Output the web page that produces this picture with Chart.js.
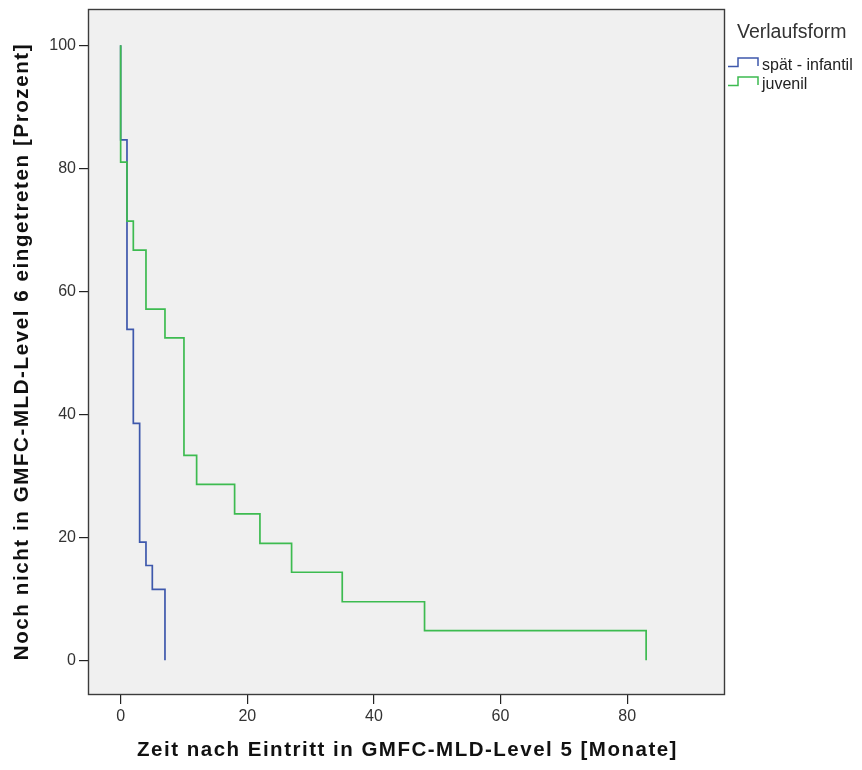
<!DOCTYPE html>
<html>
<head>
<meta charset="utf-8">
<script src="https://cdn.jsdelivr.net/npm/chart.js@4.4.1/dist/chart.umd.min.js"></script>
<style>
  html, body { margin: 0; padding: 0; background: #fff; }
</style>
</head>
<body>
<canvas id="kmChart" width="862" height="770"></canvas>
<script>
// Kaplan-Meier steps
var groupNames = ['spät - infantil', 'juvenil'];
var spaetMonths = [0, 0, 1, 2, 3, 4, 5, 7];
var spaetPercent = [100, 84.6, 53.8, 38.5, 19.2, 15.4, 11.5, 0];
var juvenilMonths = [0, 0, 1, 2, 4, 7, 10, 12, 18, 22, 27, 35, 48, 83];
var juvenilPercent = [100, 81.0, 71.4, 66.7, 57.1, 52.4, 33.3, 28.6, 23.8, 19.0, 14.3, 9.5, 4.8, 0];
var xTicks = [0, 20, 40, 60, 80];
var yTicks = [0, 20, 40, 60, 80, 100];

var xTitle = 'Zeit nach Eintritt in GMFC-MLD-Level 5 [Monate]';
var yTitle = 'Noch nicht in GMFC-MLD-Level 6 eingetreten [Prozent]';
var legendTitle = 'Verlaufsform';
var lineColors = ['#3e58ac', '#3dbb50'];

var FONT = '"Liberation Sans", Arial, sans-serif';

function toPoints(xs, ys) {
  return xs.map(function (x, i) { return { x: x, y: ys[i] }; });
}

function noScalePadding(s) {
  s.paddingTop = 0;
  s.paddingBottom = 0;
  s.paddingLeft = 0;
  s.paddingRight = 0;
}

// plot background, frame, axis titles and the step legend
var spssFrame = {
  id: 'spssFrame',
  beforeDraw: function (chart) {
    var a = chart.chartArea, ctx = chart.ctx;
    ctx.save();
    ctx.fillStyle = '#f0f0f0';
    ctx.fillRect(a.left, a.top, a.right - a.left, a.bottom - a.top);
    ctx.restore();
  },
  afterDatasetsDraw: function (chart) {
    var a = chart.chartArea, ctx = chart.ctx;
    ctx.save();
    ctx.strokeStyle = '#3c3c3c';
    ctx.lineWidth = 1.4;
    ctx.strokeRect(Math.round(a.left) - 0.5, Math.round(a.top) + 0.5,
      Math.round(a.right - a.left) + 1, Math.round(a.bottom - a.top));
    ctx.restore();
  },
  afterDraw: function (chart) {
    var a = chart.chartArea, ctx = chart.ctx;
    ctx.save();
    ctx.fillStyle = '#111';
    ctx.font = 'bold 20.5px ' + FONT;
    ctx.textAlign = 'center';
    ctx.textBaseline = 'middle';
    ctx.letterSpacing = '1.5px';
    ctx.fillText(xTitle, (a.left + a.right) / 2 + 1, 750);
    ctx.translate(22, (a.top + a.bottom) / 2);
    ctx.rotate(-Math.PI / 2);
    ctx.letterSpacing = '1.6px';
    ctx.fillText(yTitle, 0, 0);
    ctx.restore();

    // legend
    ctx.save();
    ctx.textAlign = 'left';
    ctx.textBaseline = 'alphabetic';
    ctx.fillStyle = '#333';
    ctx.font = '19.5px ' + FONT;
    ctx.fillText(legendTitle, 737, 38);
    ctx.font = '16px ' + FONT;
    chart.data.datasets.forEach(function (ds, i) {
      var base = 70 + i * 19;
      ctx.strokeStyle = ds.borderColor;
      ctx.lineWidth = 1.5;
      ctx.beginPath();
      ctx.moveTo(728, base - 3.5);
      ctx.lineTo(738, base - 3.5);
      ctx.lineTo(738, base - 12);
      ctx.lineTo(758, base - 12);
      ctx.lineTo(758, base - 4);
      ctx.stroke();
      ctx.fillStyle = '#222';
      ctx.fillText(ds.label, 762, base);
    });
    ctx.restore();
  }
};

var ctxKm = document.getElementById('kmChart').getContext('2d');
var kmChart = new Chart(ctxKm, {
  type: 'line',
  data: {
    datasets: [{
      label: groupNames[0],
      data: toPoints(spaetMonths, spaetPercent),
      borderColor: lineColors[0],
      borderWidth: 1.7,
      stepped: 'before',
      pointRadius: 0,
      fill: false,
      order: 1
    }, {
      label: groupNames[1],
      data: toPoints(juvenilMonths, juvenilPercent),
      borderColor: lineColors[1],
      borderWidth: 1.7,
      stepped: 'before',
      pointRadius: 0,
      fill: false,
      order: 0
    }]
  },
  options: {
    responsive: false,
    animation: false,
    devicePixelRatio: 1,
    layout: { padding: { top: 9, right: 138, left: 0, bottom: 0 } },
    plugins: {
      legend: { display: false },
      tooltip: { enabled: false }
    },
    scales: {
      x: {
        type: 'linear',
        min: -5,
        max: 95.3,
        afterBuildTicks: function (s) { s.ticks = xTicks.map(function (v) { return { value: v }; }); },
        afterFit: function (s) { s.height = 76; noScalePadding(s); },
        grid: { drawOnChartArea: false, drawTicks: true, tickLength: 10, color: '#222', lineWidth: 1.2 },
        border: { display: false },
        ticks: { padding: 3, color: '#333', font: { family: FONT, size: 16 }, maxRotation: 0 }
      },
      y: {
        type: 'linear',
        min: -5.5,
        max: 105.9,
        afterBuildTicks: function (s) { s.ticks = yTicks.map(function (v) { return { value: v }; }); },
        afterFit: function (s) { s.width = 89; noScalePadding(s); },
        grid: { drawOnChartArea: false, drawTicks: true, tickLength: 10, color: '#222', lineWidth: 1.2 },
        border: { display: false },
        ticks: { padding: 3, color: '#333', font: { family: FONT, size: 16 } }
      }
    }
  },
  plugins: [spssFrame]
});
</script>
</body>
</html>
